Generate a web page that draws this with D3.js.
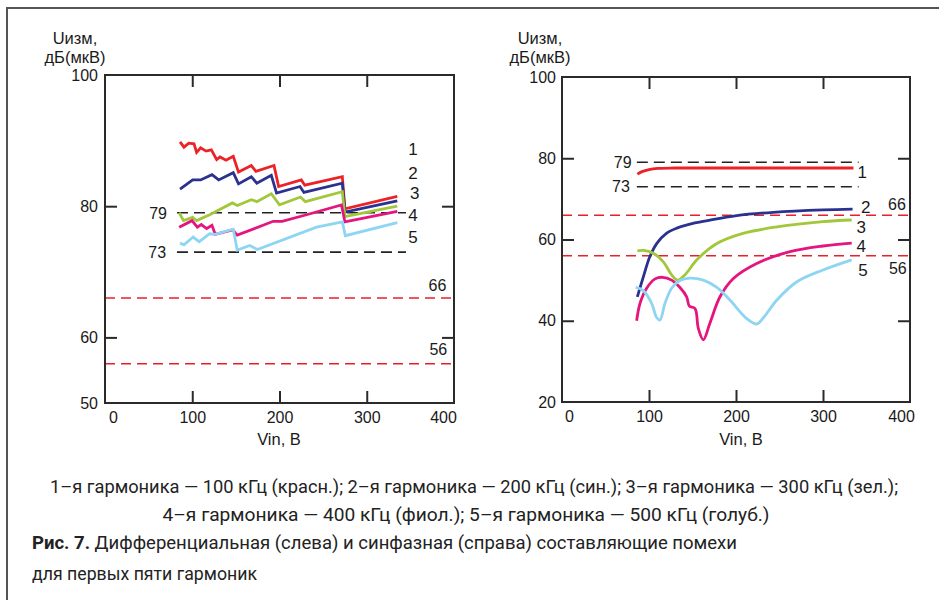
<!DOCTYPE html>
<html><head><meta charset="utf-8">
<script src="https://cdn.jsdelivr.net/npm/d3@7/dist/d3.min.js"></script>
<style>body{margin:0;background:#fff}svg{display:block}</style>
</head><body>
<svg id="chart" width="939" height="600"></svg>
<script>
// ---------- DATA ----------
const xTickValues = [0, 100, 200, 300, 400];
const leftYTickValues = [50, 60, 80, 100];
const rightYTickValues = [20, 40, 60, 80, 100];
const harmonicNames = ["1", "2", "3", "4", "5"];
const harmonicColors = ["#ec2227", "#2b318f", "#a2c73b", "#e5157f", "#8dd5f2"];

// Differential component (left), [Vin, U]
const diffH1 = [[86,89.8],[90.5,89.0],[96,89.6],[102,89.5],[105,88.2],[109.6,88.9],[115.8,88.4],[121.9,88.6],[128,87.1],[131.8,87.5],[138.7,87.0],[147,87.6],[153,85.2],[167.7,86.2],[173,85.3],[193.7,86.2],[199,83.0],[225,84.0],[229,83.2],[272,84.5],[275,79.6],[335,81.5]];
const diffH2 = [[86,82.6],[100.5,84.0],[109.6,84.0],[122.6,84.8],[130.3,84.0],[147,85.1],[153,83.4],[167.7,84.5],[174,83.5],[190.6,84.7],[196.6,82.0],[223.5,83.0],[228,82.1],[272,83.5],[275,79.1],[335,80.8]];
const diffH3 = [[85,79.0],[90,77.8],[100.4,78.3],[105,77.8],[120,78.7],[146,80.5],[151.6,80.1],[167.7,81.0],[174,80.7],[190.6,81.9],[200,80.2],[224,81.4],[229.6,80.7],[272,82.2],[275,78.4],[335,80.0]];
const diffH4 = [[85,76.8],[99.7,77.8],[105.8,76.8],[110.4,77.2],[116.5,76.6],[122.6,77.1],[126.4,75.7],[146.3,76.4],[151.6,75.6],[192.8,77.7],[203,77.7],[231,78.7],[271,80.2],[275,77.6],[335,79.2]];
const diffH5 = [[86,74.4],[90.5,74.1],[101,75.3],[108,74.6],[120,75.8],[126.4,75.7],[147,76.5],[151.6,73.3],[166,74.0],[174.6,73.4],[242.5,76.8],[272,77.6],[275.5,75.5],[335,77.5]];

// Common-mode component (right), [Vin, U]
const cmH1 = [[86.6,76.1],[92,76.7],[100,77.2],[110,77.5],[130,77.6],[200,77.6],[335,77.6]];
const cmH2 = [[86.6,45.9],[93.5,50.8],[101,55.8],[108.8,59.0],[120,61.5],[132,62.8],[147,63.8],[166,64.6],[200.8,65.9],[243,66.7],[300,67.3],[334,67.5]];
const cmH3 = [[86.6,57.2],[93.5,57.3],[105,56.6],[116.5,54.5],[126,51.3],[133,50.0],[141.4,51.3],[155,55.0],[178,59.0],[208,61.5],[247,63.1],[300,64.4],[333,64.8]];
const cmH4 = [[85.8,40.0],[89.7,44.3],[97.3,48.0],[107,50.3],[115.7,50.7],[126,50.0],[135.6,48.2],[143.3,45.9],[146.4,43.6],[152.9,43.0],[156.7,38.1],[162.4,35.3],[170,39.4],[181.6,45.9],[197,50.4],[223.8,54.1],[262,57.0],[300,58.4],[333,59.1]];
const cmH5 = [[84.7,48.2],[93.5,47.4],[103,44.3],[108.8,40.8],[112.6,40.2],[118.4,44.3],[126,48.0],[135.6,49.9],[147,50.5],[162.4,50.0],[178,48.2],[193,45.1],[212,40.6],[223.8,39.2],[231,40.6],[247,45.1],[270,49.6],[300,52.5],[333,55.0]];

// Limit lines (dB(µV))
const limitValues = [79, 73, 66, 56];
const limitKinds = ["black", "black", "red", "red"];

const yTitleLines = ["Uизм,", "дБ(мкВ)"];
const xTitle = "Vin, В";
const captionLines = [
  "1–я гармоника — 100 кГц (красн.); 2–я гармоника — 200 кГц (син.); 3–я гармоника — 300 кГц (зел.);",
  "4–я гармоника — 400 кГц (фиол.); 5–я гармоника — 500 кГц (голуб.)"
];
const figBold = "Рис. 7.";
const figText = " Дифференциальная (слева) и синфазная (справа) составляющие помехи";
const figText2 = "для первых пяти гармоник";

// ---------- DRAWING ----------
const svg = d3.select("#chart");
const FONT = "'Liberation Sans', Arial, sans-serif";
const INK = "#1a1a1a";

// outer border (top + left)
svg.append("path").attr("d", "M7,600 V8 H939").attr("fill", "none")
  .attr("stroke", "#555").attr("stroke-width", 2);

function panel(cfg) {
  const x = d3.scaleLinear().domain([0, 400]).range(cfg.xr);
  const y = d3.scaleLinear().domain(cfg.yd).range(cfg.yr);
  const g = svg.append("g");

  // limit lines
  limitValues.forEach((v, i) => {
    const black = limitKinds[i] === "black";
    const x0 = black ? x(cfg.blackFrom) : cfg.xr[0];
    const x1 = black ? x(cfg.blackTo) : cfg.xr[1];
    g.append("line").attr("x1", x0).attr("x2", x1).attr("y1", y(v)).attr("y2", y(v))
      .attr("stroke", black ? "#222" : "#e8202a")
      .attr("stroke-width", black ? 1.6 : 1.5)
      .attr("stroke-dasharray", black ? "11,6" : "10,6");
  });

  // series
  const line = d3.line().x(d => x(d[0])).y(d => y(d[1])).curve(cfg.curve);
  cfg.series.forEach((s, i) => {
    g.append("path").datum(s).attr("d", line).attr("fill", "none")
      .attr("stroke", harmonicColors[i]).attr("stroke-width", 2.8)
      .attr("stroke-linejoin", "miter").attr("stroke-linecap", "butt");
  });

  // frame
  g.append("rect").attr("x", cfg.xr[0]).attr("y", cfg.yr[1])
    .attr("width", cfg.xr[1] - cfg.xr[0]).attr("height", cfg.yr[0] - cfg.yr[1])
    .attr("fill", "none").attr("stroke", "#2a2a2a").attr("stroke-width", 2);

  // inner ticks
  const inner = [100, 200, 300];
  g.append("g").attr("transform", `translate(0,${cfg.yr[0]})`)
    .call(d3.axisBottom(x).tickValues(inner).tickSizeInner(-12).tickSizeOuter(0).tickFormat(""));
  g.append("g").attr("transform", `translate(0,${cfg.yr[1]})`)
    .call(d3.axisTop(x).tickValues(inner).tickSizeInner(-12).tickSizeOuter(0).tickFormat(""));
  const yInner = cfg.yTicks.filter(v => v !== cfg.yd[0] && v !== cfg.yd[1]);
  g.append("g").attr("transform", `translate(${cfg.xr[0]},0)`)
    .call(d3.axisLeft(y).tickValues(yInner).tickSizeInner(-12).tickSizeOuter(0).tickFormat(""));
  g.append("g").attr("transform", `translate(${cfg.xr[1]},0)`)
    .call(d3.axisRight(y).tickValues(yInner).tickSizeInner(-12).tickSizeOuter(0).tickFormat(""));
  g.selectAll(".domain").remove();
  g.selectAll(".tick line").attr("stroke", "#2a2a2a").attr("stroke-width", 2);

  // tick labels
  const xl = g.append("g").attr("transform", `translate(0,${cfg.yr[0]})`)
    .call(d3.axisBottom(x).tickValues(xTickValues).tickSize(0).tickPadding(9));
  xl.selectAll("text").attr("font-family", FONT).attr("font-size", 16).attr("fill", INK)
    .attr("dx", d => d === 0 ? cfg.dx0 : d === 400 ? cfg.dx400 : 0);
  const yl = g.append("g").attr("transform", `translate(${cfg.xr[0]},0)`)
    .call(d3.axisLeft(y).tickValues(cfg.yTicks).tickSize(0).tickPadding(cfg.yPad));
  yl.selectAll("text").attr("font-family", FONT).attr("font-size", 16).attr("fill", INK);
  g.selectAll(".domain").remove();

  // titles
  const tt = g.append("text").attr("font-family", FONT).attr("font-size", 16.5)
    .attr("text-anchor", "middle").attr("fill", INK);
  tt.append("tspan").attr("x", cfg.titleX).attr("y", 44).text(yTitleLines[0]);
  tt.append("tspan").attr("x", cfg.titleX).attr("y", 63).text(yTitleLines[1]);
  g.append("text").attr("x", (cfg.xr[0] + cfg.xr[1]) / 2 + cfg.xTitleDx).attr("y", 445)
    .attr("font-family", FONT).attr("font-size", 16.5).attr("text-anchor", "middle")
    .attr("fill", INK).text(xTitle);

  // limit labels
  cfg.limitLabels.forEach(l => {
    g.append("text").attr("x", x(l.x)).attr("y", y(l.v) + l.dy)
      .attr("dy", "0.35em").attr("text-anchor", l.anchor)
      .attr("font-family", FONT).attr("font-size", 16).attr("fill", INK).text(l.v);
  });
  // series labels
  cfg.seriesLabels.forEach((l, i) => {
    g.append("text").attr("x", x(l[0])).attr("y", y(l[1])).attr("dy", "0.35em")
      .attr("text-anchor", "middle").attr("font-family", FONT).attr("font-size", 17)
      .attr("fill", INK).text(harmonicNames[i]);
  });
}

panel({
  xr: [105, 454], yd: [50, 100], yr: [403, 75], yTicks: leftYTickValues, yPad: 7,
  series: [diffH1, diffH2, diffH3, diffH4, diffH5], curve: d3.curveLinear,
  blackFrom: 82.5, blackTo: 345, dx0: 8, dx400: -11, titleX: 75, xTitleDx: -0.5,
  limitLabels: [
    {v: 79, x: 71, dy: 1, anchor: "end"}, {v: 73, x: 70, dy: 0, anchor: "end"},
    {v: 66, x: 381, dy: -13, anchor: "middle"}, {v: 56, x: 382, dy: -14, anchor: "middle"}
  ],
  seriesLabels: [[353, 88.7], [353, 85.1], [355, 82.0], [353, 78.7], [353, 75.3]]
});

panel({
  xr: [562, 910], yd: [20, 100], yr: [402, 77], yTicks: rightYTickValues, yPad: 6,
  series: [cmH1, cmH2, cmH3, cmH4, cmH5], curve: d3.curveCatmullRom.alpha(0.5),
  blackFrom: 86, blackTo: 341, dx0: 7, dx400: -9, titleX: 540, xTitleDx: 5,
  limitLabels: [
    {v: 79, x: 80, dy: 0, anchor: "end"}, {v: 73, x: 78, dy: 0, anchor: "end"},
    {v: 66, x: 385, dy: -11, anchor: "middle"}, {v: 56, x: 386, dy: 13, anchor: "middle"}
  ],
  seriesLabels: [[345, 76.5], [349, 68.1], [344, 63.0], [344, 58.3], [346, 52.4]]
});

// ---------- CAPTION ----------
const CAP = "Roboto, 'Liberation Sans', sans-serif";
const CS = 18.5;
svg.append("text").attr("x", 474).attr("y", 493).attr("text-anchor", "middle")
  .attr("font-family", CAP).attr("font-size", CS).attr("fill", "#222")
  .attr("textLength", 848).attr("lengthAdjust", "spacingAndGlyphs").text(captionLines[0]);
svg.append("text").attr("x", 466).attr("y", 521).attr("text-anchor", "middle")
  .attr("font-family", CAP).attr("font-size", CS).attr("fill", "#222")
  .attr("textLength", 607).attr("lengthAdjust", "spacingAndGlyphs").text(captionLines[1]);
const t3 = svg.append("text").attr("x", 32).attr("y", 549)
  .attr("font-family", CAP).attr("font-size", CS).attr("fill", "#222")
  .attr("textLength", 705).attr("lengthAdjust", "spacingAndGlyphs");
t3.append("tspan").attr("font-weight", "bold").text(figBold);
t3.append("tspan").text(figText);
svg.append("text").attr("x", 32).attr("y", 580)
  .attr("font-family", CAP).attr("font-size", CS).attr("fill", "#222")
  .attr("textLength", 225).attr("lengthAdjust", "spacingAndGlyphs").text(figText2);
</script>
</body></html>
